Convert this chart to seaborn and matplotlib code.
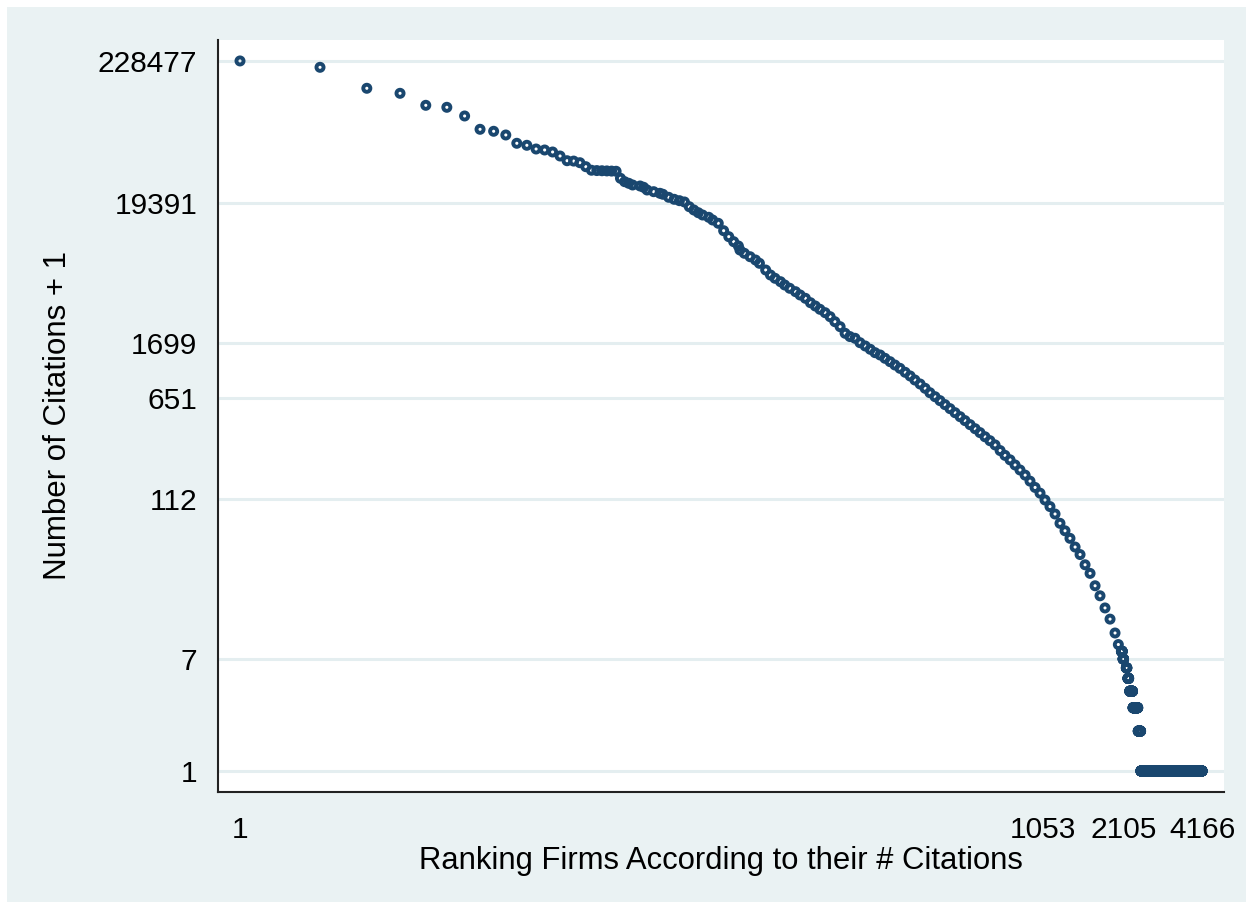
import numpy as np
import pandas as pd
import matplotlib
matplotlib.use("Agg")
import matplotlib.pyplot as plt
import seaborn as sns
from matplotlib.patches import Rectangle
from matplotlib.ticker import NullLocator, FixedLocator, FixedFormatter

# ---- data ----
# top ranked firms (individually visible markers)
top_rank = list(range(1, 28))
top_cites = [228477, 204600, 142100, 130200, 105700, 102100, 87800, 69660,
             67300, 63100, 54630, 52760, 49460, 48620, 46960, 43800, 40360,
             40100, 38980, 36370, 34200, 34000, 33900, 33800, 33700, 33600,
             29730]

# dense part of the curve (readings along the band)
mid_rank = [28, 29, 30, 32, 33, 34, 36, 38, 39, 41, 43, 45, 47, 49, 51, 53,
            55, 58, 60, 63, 66, 69, 72, 75, 76, 79, 83, 87, 90, 95, 99, 103,
            108, 112, 117, 123, 128, 134, 140, 146, 152, 159, 166, 173, 181,
            189, 197, 206, 215, 225, 235, 245, 256, 267, 279, 291, 304, 318,
            332, 346, 362, 378, 394, 412, 430, 449, 469, 490, 512, 534, 558,
            583, 608, 635, 663, 693, 724, 755, 789, 824, 860, 899, 938, 980,
            1023, 1068, 1115, 1165, 1216, 1270, 1326, 1386, 1447, 1511, 1578,
            1648, 1720, 1796, 1876, 1959, 2016]
mid_cites = [28030, 27260, 26470, 26010, 25430, 24260, 23560, 22910, 22520,
             21370, 20640, 20150, 19700, 18150, 17140, 16350, 15710, 15100,
             14400, 13600, 11960, 10780, 9880, 9170, 8550, 8075, 7610, 7188,
             6786, 6040, 5538, 5230, 4930, 4656, 4396, 4145, 3913, 3694, 3422,
             3231, 3051, 2877, 2684, 2460, 2256, 2011, 1900, 1844, 1708, 1613,
             1523, 1436, 1379, 1302, 1228, 1159, 1094, 1021, 958, 893, 833,
             773, 716, 668, 624, 582, 543, 506, 472, 441, 411, 383, 358, 333,
             311, 289, 262, 241, 223, 204, 187, 171, 154, 138, 125, 111, 99,
             87, 74, 65, 57, 49, 43, 36, 31, 25, 21, 17, 14, 11, 9]

# low end: runs of firms sharing the same (citations + 1) value
run_value = [8, 7, 6, 5, 4, 3, 2, 1]
run_first = [2070, 2100, 2160, 2190, 2225, 2290, 2395, 2450]
run_last = [2085, 2110, 2170, 2205, 2280, 2385, 2445, 4166]

xtick_vals = [1, 1053, 2105, 4166]
ytick_vals = [1, 7, 112, 651, 1699, 19391, 228477]

# ---- build table ----
ranks = list(top_rank) + list(mid_rank)
cites = list(top_cites) + list(mid_cites)
for v, a, b in zip(run_value, run_first, run_last):
    r = np.arange(a, b + 1)
    ranks += list(r)
    cites += [v] * len(r)
df = pd.DataFrame({"rank": ranks, "cites": cites})

navy = "#1A476F"
bg = "#EAF2F3"
grid_c = "#E4EEF0"

sns.set_style("white")
plt.rcParams["font.family"] = ["Liberation Sans", "DejaVu Sans"]

W, H = 1253, 909
fig = plt.figure(figsize=(W / 100, H / 100), dpi=100)
fig.patch.set_facecolor("white")
fig.add_artist(Rectangle((7 / W, 7 / H), (W - 14) / W, (H - 14) / H,
                         transform=fig.transFigure, facecolor=bg,
                         edgecolor="none", zorder=-5))

left, right, top, bottom = 218, 1224, 39.5, 792
ax = fig.add_axes([left / W, 1 - bottom / H, (right - left) / W, (bottom - top) / H])
ax.set_facecolor("white")

msize, mlw = 26, 2.8
sns.scatterplot(data=df, x="rank", y="cites", ax=ax, marker="o", s=msize,
                facecolor="none", edgecolor=navy, linewidth=mlw, zorder=3)
coll = ax.collections[-1]
coll.set_linewidths([mlw])
coll.set_sizes([msize])
coll.set_facecolors("none")
coll.set_edgecolors(navy)

ax.set_xscale("log")
ax.set_yscale("log")
ax.set_xlim(0.8265, 5035)
ax.set_ylim(0.694, 331700)

ax.xaxis.set_major_locator(FixedLocator(xtick_vals))
ax.xaxis.set_major_formatter(FixedFormatter([str(v) for v in xtick_vals]))
ax.yaxis.set_major_locator(FixedLocator(ytick_vals))
ax.yaxis.set_major_formatter(FixedFormatter([str(v) for v in ytick_vals]))
ax.xaxis.set_minor_locator(NullLocator())
ax.yaxis.set_minor_locator(NullLocator())

ax.yaxis.grid(True, color=grid_c, linewidth=2.2, zorder=0)
ax.xaxis.grid(False)
ax.set_axisbelow(True)

for s in ["top", "right"]:
    ax.spines[s].set_visible(False)
for s in ["left", "bottom"]:
    ax.spines[s].set_color("#222222")
    ax.spines[s].set_linewidth(1.5)

ax.tick_params(axis="both", which="major", direction="out", length=8,
               width=1.3, color="#222222", labelsize=21.5, labelcolor="black")
ax.tick_params(axis="y", pad=7)
ax.tick_params(axis="x", pad=9)

ax.set_xlabel("Ranking Firms According to their # Citations", fontsize=22.3,
              labelpad=2, color="black")
ax.set_ylabel("Number of Citations + 1", fontsize=22.5, labelpad=18,
              color="black")

fig.savefig("out.png", dpi=100, facecolor=fig.get_facecolor())
